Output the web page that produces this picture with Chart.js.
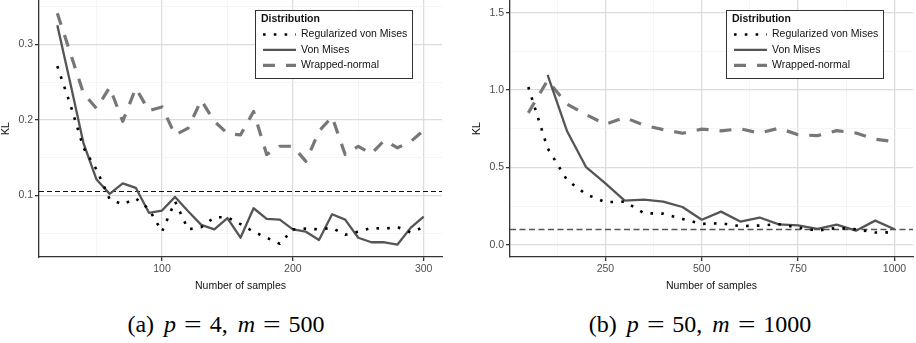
<!DOCTYPE html>
<html>
<head>
<meta charset="utf-8">
<script src="https://cdn.jsdelivr.net/npm/chart.js@4.4.0/dist/chart.umd.min.js"></script>
<style>
  body { margin: 0; background: #fff; width: 916px; height: 343px; position: relative; overflow: hidden; }
  canvas { position: absolute; top: 0; }
  .cap { position: absolute; top: 312px; font-family: 'Liberation Serif', 'DejaVu Serif', serif; font-size: 24px; line-height: 25px; text-align: center; color: #000; white-space: nowrap; }
  .cap .eq { display: inline-block; margin: 0 10px; transform: scaleX(1.3); }
  .cap .sp { display: inline-block; width: 10px; }
</style>
</head>
<body>
<canvas id="chartA" width="450" height="300" style="left:0"></canvas>
<canvas id="chartB" width="445" height="300" style="left:471px"></canvas>
<div class="cap" style="left:0;width:452px">(a)<span class="sp"></span><i>p</i><span class="eq">=</span>4,<span class="sp"></span><i>m</i><span class="eq">=</span>500</div>
<div class="cap" style="left:500px;width:400px">(b)<span class="sp"></span><i>p</i><span class="eq">=</span>50,<span class="sp"></span><i>m</i><span class="eq">=</span>1000</div>

<script>
// panel (a): p = 4, m = 500
const samplesA = [20, 30, 40, 50, 60, 70, 80, 90, 100, 110, 120, 130, 140, 150, 160, 170, 180, 190, 200, 210, 220, 230, 240, 250, 260, 270, 280, 290, 300];
const regVonMisesA = [0.271, 0.220, 0.163, 0.134, 0.095, 0.088, 0.096, 0.082, 0.052, 0.092, 0.055, 0.058, 0.071, 0.071, 0.062, 0.052, 0.044, 0.036, 0.055, 0.056, 0.055, 0.057, 0.048, 0.052, 0.057, 0.056, 0.058, 0.051, 0.058];
const vonMisesA = [0.325, 0.248, 0.169, 0.121, 0.102, 0.116, 0.110, 0.077, 0.080, 0.098, 0.079, 0.061, 0.055, 0.070, 0.044, 0.083, 0.069, 0.068, 0.055, 0.052, 0.041, 0.075, 0.068, 0.044, 0.038, 0.038, 0.035, 0.057, 0.072];
const wrappedNormalA = [0.341, 0.288, 0.235, 0.215, 0.243, 0.198, 0.242, 0.212, 0.217, 0.180, 0.189, 0.226, 0.198, 0.182, 0.180, 0.211, 0.154, 0.165, 0.165, 0.145, 0.185, 0.204, 0.154, 0.165, 0.155, 0.173, 0.163, 0.171, 0.186];
const refKLA = 0.106;
const xMajorA = [100, 200, 300];
const xMinorA = [50, 150, 250];
const yMajorA = [0.1, 0.2, 0.3];
const yMinorA = [0.05, 0.15, 0.25, 0.35];

// panel (b): p = 50, m = 1000
const samplesB = [50, 100, 150, 200, 250, 300, 350, 400, 450, 500, 550, 600, 650, 700, 750, 800, 850, 900, 950, 1000];
const regVonMisesB = [1.02, 0.625, 0.42, 0.327, 0.276, 0.28, 0.205, 0.202, 0.168, 0.136, 0.14, 0.121, 0.125, 0.134, 0.112, 0.092, 0.11, 0.101, 0.08, 0.082];
const vonMisesB = [null, 1.098, 0.738, 0.502, 0.398, 0.286, 0.293, 0.28, 0.245, 0.163, 0.215, 0.151, 0.177, 0.133, 0.126, 0.103, 0.131, 0.092, 0.157, 0.101];
const wrappedNormalB = [0.853, 1.063, 0.91, 0.842, 0.779, 0.823, 0.773, 0.745, 0.721, 0.748, 0.737, 0.75, 0.722, 0.754, 0.712, 0.706, 0.738, 0.723, 0.683, 0.667];
const refKLB = 0.1;
const xMajorB = [250, 500, 750, 1000];
const xMinorB = [125, 375, 625, 875];
const yMajorB = [0, 0.5, 1.0, 1.5];
const yMinorB = [0.25, 0.75, 1.25];

const seriesNames = ['Regularized von Mises', 'Von Mises', 'Wrapped-normal'];

Chart.defaults.font.family = "'Liberation Sans', Arial, sans-serif";
Chart.defaults.font.size = 10.5;

const styles = [
  { borderColor: '#000', borderWidth: 2.6, borderDash: [2.6, 8.2] },
  { borderColor: '#555', borderWidth: 2.3, borderDash: [] },
  { borderColor: '#777', borderWidth: 3.2, borderDash: [12, 11] }
];

function pts(xs, ys) {
  return xs.map((x, i) => ({ x: x, y: ys[i] }));
}

// dashed horizontal reference line
const refLinePlugin = {
  id: 'refLine',
  beforeDatasetsDraw(chart, args, opts) {
    const { ctx, chartArea } = chart;
    const y = Math.round(chart.scales.y.getPixelForValue(opts.value)) + 0.5;
    ctx.save();
    ctx.strokeStyle = opts.color;
    ctx.lineWidth = opts.width;
    ctx.setLineDash(opts.dash);
    ctx.beginPath();
    ctx.moveTo(chartArea.left, y);
    ctx.lineTo(chartArea.right, y);
    ctx.stroke();
    ctx.restore();
  }
};

// ggplot-like boxed legend inside the panel
const boxLegendPlugin = {
  id: 'boxLegend',
  afterDatasetsDraw(chart, args, opts) {
    const { ctx, chartArea } = chart;
    const x = Math.round(chartArea.left + opts.dx), y = opts.dy;
    const w = 157, h = 68;
    ctx.save();
    ctx.fillStyle = '#fff';
    ctx.fillRect(x, y, w, h);
    ctx.strokeStyle = '#333';
    ctx.lineWidth = 1;
    ctx.strokeRect(x + 0.5, y + 0.5, w, h);
    ctx.fillStyle = '#111';
    ctx.textBaseline = 'middle';
    ctx.font = "bold 10.5px 'Liberation Sans', Arial, sans-serif";
    ctx.fillText('Distribution', x + 6, y + 9.5);
    ctx.font = "10.5px 'Liberation Sans', Arial, sans-serif";
    chart.data.datasets.forEach((ds, i) => {
      const ly = y + 24.5 + i * 15.4;
      ctx.save();
      ctx.strokeStyle = ds.borderColor;
      ctx.lineWidth = ds.borderWidth;
      ctx.setLineDash(ds.borderDash);
      ctx.beginPath();
      ctx.moveTo(x + 8, ly);
      ctx.lineTo(x + 41, ly);
      ctx.stroke();
      ctx.restore();
      ctx.fillText(ds.label, x + 46, ly);
    });
    ctx.restore();
  }
};

function makeChart(id, xs, series, ref, refStyle, xr, yr, xMajor, xMinor, yMajor, yMinor) {
  const isMajorX = v => xMajor.includes(v);
  const isMajorY = v => yMajor.includes(v);
  return new Chart(document.getElementById(id), {
    type: 'line',
    data: {
      datasets: series.map((ys, i) => ({
        label: seriesNames[i],
        data: pts(xs, ys),
        borderColor: styles[i].borderColor,
        borderWidth: styles[i].borderWidth,
        borderDash: styles[i].borderDash,
        borderCapStyle: 'butt',
        borderJoinStyle: 'round',
        pointRadius: 0,
        tension: 0,
        fill: false
      }))
    },
    options: {
      responsive: false,
      animation: false,
      devicePixelRatio: 1,
      layout: { padding: { top: 0, right: id === 'chartA' ? 8 : 3, left: 0, bottom: 0 } },
      plugins: {
        legend: { display: false },
        tooltip: { enabled: false },
        refLine: Object.assign({ value: ref }, refStyle),
        boxLegend: { dx: 216, dy: 10 }
      },
      scales: {
        x: {
          type: 'linear', min: xr[0], max: xr[1],
          afterBuildTicks: s => { s.ticks = xMinor.concat(xMajor).sort((a, b) => a - b).map(v => ({ value: v })); },
          afterFit: s => { s.height = 43; s.paddingLeft = 0; s.paddingRight = 0; },
          ticks: { autoSkip: false, maxRotation: 0, color: '#4d4d4d', padding: 2,
                   callback: v => isMajorX(v) ? String(v) : '' },
          grid: {
            color: c => isMajorX(c.tick.value) ? '#dcdcdc' : '#f2f2f2',
            lineWidth: c => isMajorX(c.tick.value) ? 1.3 : 0.8,
            tickLength: 4,
            tickColor: c => isMajorX(c.tick.value) ? '#333' : 'rgba(0,0,0,0)'
          },
          border: { display: true, color: '#333', width: 1.3 },
          title: { display: true, text: 'Number of samples', color: '#111', padding: { top: 0, bottom: 8 } }
        },
        y: {
          type: 'linear', min: yr[0], max: yr[1],
          afterBuildTicks: s => { s.ticks = yMinor.concat(yMajor).sort((a, b) => a - b).map(v => ({ value: v })); },
          afterFit: s => { s.width = 39; s.paddingTop = 0; s.paddingBottom = 0; },
          ticks: { autoSkip: false, color: '#4d4d4d', padding: 2,
                   callback: v => isMajorY(v) ? v.toFixed(1) : '' },
          grid: {
            color: c => isMajorY(c.tick.value) ? '#dcdcdc' : '#f2f2f2',
            lineWidth: c => isMajorY(c.tick.value) ? 1.3 : 0.8,
            tickLength: 4,
            tickColor: c => isMajorY(c.tick.value) ? '#333' : 'rgba(0,0,0,0)'
          },
          border: { display: true, color: '#333', width: 1.3 },
          title: { display: true, text: 'KL', color: '#111', padding: { top: 0, bottom: 0 } }
        }
      }
    },
    plugins: [refLinePlugin, boxLegendPlugin]
  });
}

makeChart('chartA', samplesA, [regVonMisesA, vonMisesA, wrappedNormalA], refKLA,
  { color: '#111', width: 1, dash: [5, 3] },
  [6, 314], [0.0185, 0.3585], xMajorA, xMinorA, yMajorA, yMinorA);

makeChart('chartB', samplesB, [regVonMisesB, vonMisesB, wrappedNormalB], refKLB,
  { color: '#555', width: 1.3, dash: [6, 3.5] },
  [2.5, 1048], [-0.078, 1.582], xMajorB, xMinorB, yMajorB, yMinorB);
</script>
</body>
</html>
